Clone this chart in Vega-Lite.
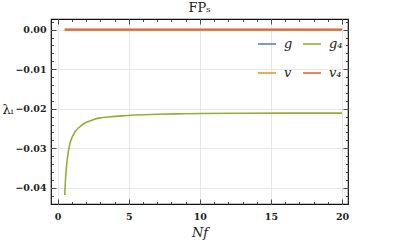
{
  "$schema": "https://vega.github.io/schema/vega-lite/v6.json",
  "autosize": "none",
  "width": 297,
  "height": 185,
  "padding": {"left": 51, "top": 19, "right": 59, "bottom": 44},
  "background": "white",
  "title": {"text": "FPₛ", "font": "DejaVu Serif", "fontSize": 13, "fontWeight": "normal", "color": "#222", "offset": 4},
  "config": {
    "view": {"stroke": "#111", "strokeWidth": 1.2},
    "axis": {"domain": false, "labelFont": "DejaVu Serif", "labelFontSize": 9.5, "labelFontWeight": "bold", "labelColor": "#222", "tickColor": "#222", "tickWidth": 0.8, "gridColor": "#e4e4e4", "gridWidth": 0.9}
  },
  "datasets": {
    "lines": [
      {"series": "g", "N": 0.5, "value": 0},
      {"series": "g", "N": 20, "value": 0},
      {"series": "v", "N": 0.5, "value": 0},
      {"series": "v", "N": 20, "value": 0},
      {"series": "v₄", "N": 0.5, "value": 0},
      {"series": "v₄", "N": 20, "value": 0},
      {"series": "g₄", "N": 0.5, "value": -0.0418},
      {"series": "g₄", "N": 0.52, "value": -0.0400},
      {"series": "g₄", "N": 0.55, "value": -0.0380},
      {"series": "g₄", "N": 0.58, "value": -0.0363},
      {"series": "g₄", "N": 0.63, "value": -0.0343},
      {"series": "g₄", "N": 0.70, "value": -0.0321},
      {"series": "g₄", "N": 0.78, "value": -0.0302},
      {"series": "g₄", "N": 0.87, "value": -0.0287},
      {"series": "g₄", "N": 0.97, "value": -0.0276},
      {"series": "g₄", "N": 1.10, "value": -0.0266},
      {"series": "g₄", "N": 1.25, "value": -0.0257},
      {"series": "g₄", "N": 1.45, "value": -0.0249},
      {"series": "g₄", "N": 1.65, "value": -0.0243},
      {"series": "g₄", "N": 1.92, "value": -0.0236},
      {"series": "g₄", "N": 2.25, "value": -0.0231},
      {"series": "g₄", "N": 2.63, "value": -0.0226},
      {"series": "g₄", "N": 3.05, "value": -0.0223},
      {"series": "g₄", "N": 3.56, "value": -0.0221},
      {"series": "g₄", "N": 4.5, "value": -0.0218},
      {"series": "g₄", "N": 5.44, "value": -0.0216},
      {"series": "g₄", "N": 7, "value": -0.0214},
      {"series": "g₄", "N": 8.5, "value": -0.0213},
      {"series": "g₄", "N": 10, "value": -0.0212},
      {"series": "g₄", "N": 13, "value": -0.02115},
      {"series": "g₄", "N": 16, "value": -0.0211},
      {"series": "g₄", "N": 20, "value": -0.0211}
    ]
  },
  "data": {"name": "lines"},
  "layer": [
    {
      "mark": {"type": "line", "strokeWidth": 1.6, "interpolate": "monotone"},
      "encoding": {
        "x": {
          "field": "N", "type": "quantitative",
          "scale": {"domain": [-0.47, 20.42], "nice": false, "zero": false},
          "axis": {
            "orient": "bottom",
            "title": "Nf",
            "titleFont": "DejaVu Serif", "titleFontSize": 13, "titleFontStyle": "italic", "titleFontWeight": "normal", "titleColor": "#222", "titlePadding": 6,
            "values": [0,1,2,3,4,5,6,7,8,9,10,11,12,13,14,15,16,17,18,19,20],
            "format": "d",
            "labelExpr": "datum.value % 5 === 0 ? datum.label : ''",
            "tickSize": {"condition": {"test": "datum.value % 5 === 0", "value": -5}, "value": -2.5},
            "labelPadding": 12,
            "gridOpacity": {"condition": {"test": "datum.value % 5 === 0", "value": 1}, "value": 0}
          }
        },
        "y": {
          "field": "value", "type": "quantitative",
          "scale": {"domain": [-0.0441, 0.0027], "nice": false, "zero": false},
          "axis": {
            "orient": "left",
            "title": "λᵢ",
            "titleFont": "DejaVu Serif", "titleFontSize": 13, "titleFontWeight": "normal", "titleColor": "#222",
            "titleAngle": 0, "titleX": -49, "titleY": 90, "titleAlign": "left", "titleBaseline": "middle",
            "values": [-0.044,-0.042,-0.04,-0.038,-0.036,-0.034,-0.032,-0.03,-0.028,-0.026,-0.024,-0.022,-0.02,-0.018,-0.016,-0.014,-0.012,-0.01,-0.008,-0.006,-0.004,-0.002,0,0.002],
            "format": ".2f",
            "labelExpr": "abs(datum.value*100 - round(datum.value*100)) < 0.000001 ? datum.label : ''",
            "tickSize": {"condition": {"test": "abs(datum.value*100 - round(datum.value*100)) < 0.000001", "value": -5}, "value": -2.5},
            "labelPadding": 10,
            "gridOpacity": {"condition": {"test": "abs(datum.value*100 - round(datum.value*100)) < 0.000001", "value": 1}, "value": 0}
          }
        },
        "color": {
          "field": "series", "type": "nominal",
          "scale": {"domain": ["g", "v", "g₄", "v₄"], "range": ["#5E81B5", "#E19C24", "#8FB032", "#EB6235"]},
          "legend": {
            "title": null, "orient": "none", "legendX": 206, "legendY": 15, "columns": 2,
            "symbolType": "stroke", "symbolSize": 324, "symbolStrokeWidth": 1.6,
            "labelFont": "DejaVu Serif", "labelFontSize": 13, "labelFontStyle": "italic", "labelColor": "#222",
            "labelOffset": 7, "rowPadding": 12, "columnPadding": 6
          }
        }
      }
    },
    {
      "mark": {"type": "line", "opacity": 0},
      "encoding": {
        "x": {
          "field": "N", "type": "quantitative",
          "scale": {"domain": [-0.47, 20.42], "nice": false, "zero": false},
          "axis": {
            "orient": "top", "title": null, "labels": false, "grid": false,
            "values": [0,1,2,3,4,5,6,7,8,9,10,11,12,13,14,15,16,17,18,19,20],
            "tickSize": {"condition": {"test": "datum.value % 5 === 0", "value": -5}, "value": -2.5}
          }
        },
        "y": {
          "field": "value", "type": "quantitative",
          "scale": {"domain": [-0.0441, 0.0027], "nice": false, "zero": false},
          "axis": {
            "orient": "right", "title": null, "labels": false, "grid": false,
            "values": [-0.044,-0.042,-0.04,-0.038,-0.036,-0.034,-0.032,-0.03,-0.028,-0.026,-0.024,-0.022,-0.02,-0.018,-0.016,-0.014,-0.012,-0.01,-0.008,-0.006,-0.004,-0.002,0,0.002],
            "tickSize": {"condition": {"test": "abs(datum.value*100 - round(datum.value*100)) < 0.000001", "value": -5}, "value": -2.5}
          }
        },
        "detail": {"field": "series", "type": "nominal"}
      }
    }
  ],
  "resolve": {"axis": {"x": "independent", "y": "independent"}}
}
